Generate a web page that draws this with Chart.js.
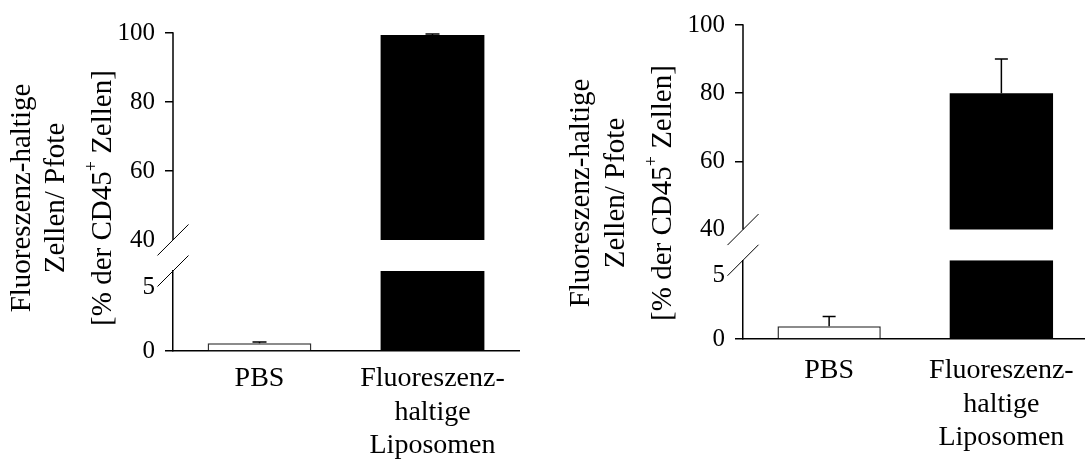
<!DOCTYPE html>
<html><head><meta charset="utf-8">
<script src="https://cdn.jsdelivr.net/npm/chart.js@4.4.1/dist/chart.umd.min.js"></script>
<style>
html,body{margin:0;padding:0;background:#fff;overflow:hidden;width:1085px;height:462px;position:relative}
canvas{position:absolute;top:0}
#c1{left:0}
#c2{left:540px}
</style></head><body>
<canvas id="c1" width="540" height="462"></canvas>
<canvas id="c2" width="560" height="462"></canvas>
<script>
// ---- data ----
const categories = ['PBS', ['Fluoreszenz-', 'haltige', 'Liposomen']];
const leftMeans = [0.6, 99.4];
const leftErrors = [0.1, 0.3];
const rightMeans = [1.0, 80];
const rightErrors = [0.75, 10];
const upperTicks = [40, 60, 80, 100];
const lowerTicks = [0, 5];
const unmarkedTicks = [5, 40];
const breakValue = 40;
const barFills = ['#ffffff', '#000000'];
const titleLines = ['Fluoreszenz-haltige', 'Zellen/ Pfote'];
const titleLine3 = ['[% der CD45', '+', ' Zellen]'];

const FONT = '"Liberation Serif", "Times New Roman", serif';

function gridColor(c) {
  return (c.tick && unmarkedTicks.includes(c.tick.value)) ? 'rgba(0,0,0,0)' : '#000';
}

function makePanel(id, means, errors, L) {
  const lowerData = means.map(v => Math.min(v, L.lowerMax));
  const upperData = means.map(v => v > breakValue ? [breakValue, v] : null);
  const decor = {
    id: 'decor' + id,
    afterDatasetsDraw(chart) {
      const ctx = chart.ctx, xs = chart.scales.x, yt = chart.scales.yTop, yb = chart.scales.yBot;
      const ax = chart.chartArea.left;
      ctx.save();
      ctx.strokeStyle = '#000';
      ctx.lineWidth = 1.5;
      ctx.beginPath();
      ctx.moveTo(ax, yt.getPixelForValue(breakValue));
      ctx.lineTo(ax, yt.getPixelForValue(yt.max) - 0.75);
      ctx.stroke();
      means.forEach((v, i) => {
        const s = v > breakValue ? yt : yb;
        const px = xs.getPixelForValue(i);
        const y0 = s.getPixelForValue(v), y1 = s.getPixelForValue(v + errors[i]);
        ctx.beginPath();
        ctx.moveTo(px, y0); ctx.lineTo(px, y1);
        ctx.moveTo(px - L.cap / 2, y1); ctx.lineTo(px + L.cap / 2, y1);
        ctx.stroke();
      });
      ctx.lineWidth = 1;
      [yt.getPixelForValue(breakValue), yb.getPixelForValue(yb.max)].forEach(py => {
        ctx.beginPath();
        ctx.moveTo(ax - 15.5, py + 15.5);
        ctx.lineTo(ax + 15.5, py - 15.5);
        ctx.stroke();
      });
      // y-axis title
      ctx.fillStyle = '#000';
      ctx.textBaseline = 'middle';
      const f = L.titleSize;
      titleLines.forEach((t, k) => {
        ctx.save();
        ctx.translate(L.titleX[k], L.titleY);
        ctx.rotate(-Math.PI / 2);
        ctx.font = f + 'px ' + FONT;
        ctx.textAlign = 'center';
        ctx.fillText(t, 0, 0);
        ctx.restore();
      });
      ctx.save();
      ctx.translate(L.titleX[2], L.titleY);
      ctx.rotate(-Math.PI / 2);
      ctx.textAlign = 'left';
      const fs = Math.round(f * 0.62);
      ctx.font = f + 'px ' + FONT;
      const w1 = ctx.measureText(titleLine3[0]).width;
      const w3 = ctx.measureText(titleLine3[2]).width;
      ctx.font = fs + 'px ' + FONT;
      const w2 = ctx.measureText(titleLine3[1]).width;
      let xx = -(w1 + w2 + w3) / 2;
      ctx.font = f + 'px ' + FONT;
      ctx.fillText(titleLine3[0], xx, 0); xx += w1;
      ctx.font = fs + 'px ' + FONT;
      ctx.fillText(titleLine3[1], xx, -f * 0.38); xx += w2;
      ctx.font = f + 'px ' + FONT;
      ctx.fillText(titleLine3[2], xx, 0);
      ctx.restore();
      ctx.restore();
    }
  };
  const tickFont = { family: FONT, size: 25 };
  return new Chart(document.getElementById(id), {
    type: 'bar',
    data: {
      labels: categories,
      datasets: [
        { data: lowerData, yAxisID: 'yBot', backgroundColor: barFills, borderColor: '#333',
          borderWidth: [1.5, 0], grouped: false, barPercentage: 0.6, categoryPercentage: 1 },
        { data: upperData, yAxisID: 'yTop', backgroundColor: barFills, borderColor: '#333',
          borderWidth: [1.5, 0], grouped: false, barPercentage: 0.6, categoryPercentage: 1 }
      ]
    },
    options: {
      responsive: false,
      animation: false,
      layout: { padding: { left: L.padL, right: L.padR, top: L.padT, bottom: 0 } },
      plugins: { legend: { display: false }, tooltip: { enabled: false } },
      scales: {
        x: {
          grid: { display: false },
          border: { color: '#000', width: 1.5 },
          ticks: { color: '#000', font: { family: FONT, size: 28, lineHeight: 1.2 }, padding: L.xPad, maxRotation: 0, autoSkip: false },
          afterFit: s => { s.height = L.xH; }
        },
        yBot: {
          type: 'linear', position: 'left', stack: 'p', stackWeight: L.wBot,
          min: 0, max: L.lowerMax,
          border: { color: '#000', width: 1.5 },
          grid: { drawOnChartArea: false, tickLength: 8, color: gridColor, lineWidth: 1.5 },
          ticks: { color: '#000', font: tickFont, padding: 10 },
          afterBuildTicks: s => { s.ticks = lowerTicks.map(v => ({ value: v })); },
          afterFit: s => { s.width = 100; }
        },
        yTop: {
          type: 'linear', position: 'left', stack: 'p', stackWeight: L.wTop,
          min: L.upperMin, max: 100,
          border: { display: false },
          grid: { drawOnChartArea: false, tickLength: 8, color: gridColor, lineWidth: 1.5 },
          ticks: { color: '#000', font: tickFont, padding: 10 },
          afterBuildTicks: s => { s.ticks = upperTicks.map(v => ({ value: v })); },
          afterFit: s => { s.width = 100; }
        }
      }
    },
    plugins: [decor]
  });
}

makePanel('c1', leftMeans, leftErrors, {
  padL: 73, padR: 21, padT: 33, xH: 111, wTop: 238, wBot: 80, upperMin: 31, lowerMax: 6.25,
  cap: 14, xPad: 3, titleSize: 29, titleX: [22, 56, 103], titleY: 198
});
makePanel('c2', rightMeans, rightErrors, {
  padL: 103, padR: 12.5, padT: 20, xH: 123, wTop: 239, wBot: 80, upperMin: 31, lowerMax: 6.15,
  cap: 13, xPad: 7, titleSize: 29, titleX: [41, 76, 123], titleY: 193
});
</script>
</body></html>
